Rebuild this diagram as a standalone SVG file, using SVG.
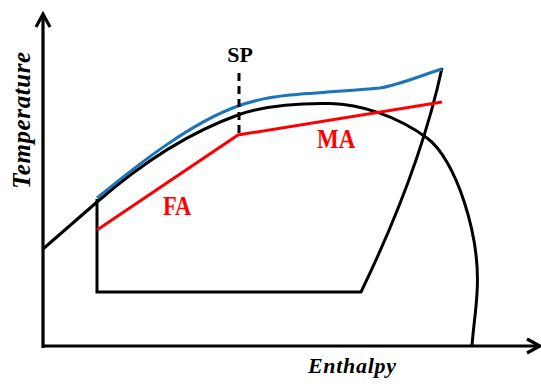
<svg xmlns="http://www.w3.org/2000/svg" width="541" height="386" viewBox="0 0 541 386">
<style>
.ax{fill:none;stroke:#000;stroke-width:3.2}
.blk{fill:none;stroke:#000;stroke-width:3}
.blu{fill:none;stroke:#1a75bc;stroke-width:3}
.red{fill:none;stroke:#ff0000;stroke-width:3}
.lbl{font-family:"Liberation Serif","Times New Roman",serif;font-weight:bold}
.red-t{fill:#ff0000}
.it{font-style:italic}
</style>
<rect width="541" height="386" fill="#fff"/>
<g id="axes">
<path class="ax" d="M43,15 L43,348 M41.4,346 L540,346"/>
<path class="ax" d="M36,27 L43,14 L50,27"/>
<path class="ax" d="M527,339 L540,346 L527,353"/>
<text class="lbl it" transform="translate(30,120) rotate(-90)" text-anchor="middle" font-size="25" letter-spacing="0.6">Temperature</text>
<text class="lbl it" x="308" y="373" font-size="22" letter-spacing="0.7">Enthalpy</text>
</g>
<g id="connectors">
<path id="saturation" class="blk" d="M43,249 L97,202 C141,163.7 191,131.8 238,115 C266,105 300,103 330,103.5 C360,104 397,116 427,138 C455,158 481,235 477,293 C476,312 473,330 472,346"/>
<path id="cycle" class="blk" d="M97,199 L97,292 L361,292 Q420,170 442,68"/>
<path id="blue" class="blu" d="M97,198 C142,161 193,122 238,106 C256,99.6 272,96.6 290,95 C320,92.3 360,90 380,88 C400,84.9 425,74 442,69"/>
<polyline id="red" class="red" points="97,230 238,135 442,102"/>
<line id="sp-line" x1="239" y1="73" x2="239" y2="135" stroke="#000" stroke-width="3" stroke-dasharray="8,5"/>
</g>
<g id="SP"><text class="lbl" x="240" y="62" font-size="22" text-anchor="middle">SP</text></g>
<g id="FA"><text class="lbl red-t" transform="translate(163,215) scale(1,1.2)" font-size="22.5">FA</text></g>
<g id="MA"><text class="lbl red-t" transform="translate(317,148) scale(1,1.2)" font-size="23">MA</text></g>
</svg>
